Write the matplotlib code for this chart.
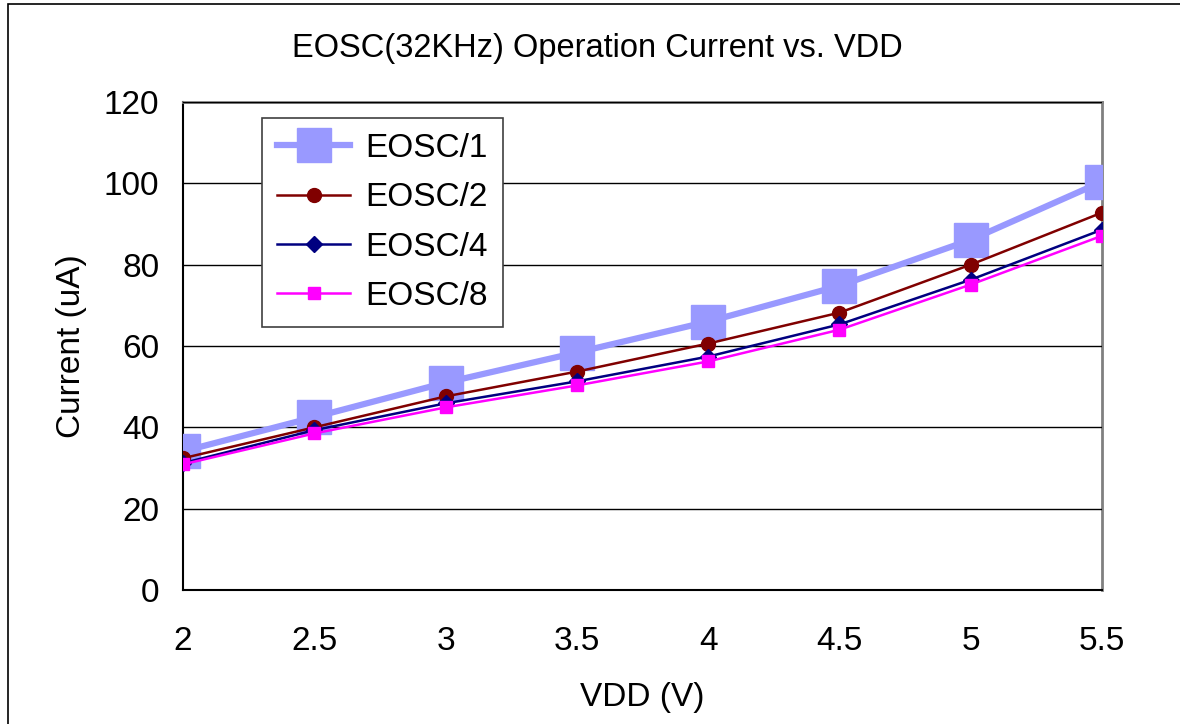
import matplotlib
matplotlib.use("Agg")
import matplotlib.pyplot as plt
from matplotlib.patches import Rectangle

plt.rcParams['font.family'] = ['Liberation Sans', 'DejaVu Sans']

vdd = [2, 2.5, 3, 3.5, 4, 4.5, 5, 5.5]
eosc1 = [34.1, 42.5, 51.0, 58.4, 66.0, 74.8, 86.1, 100.4]
eosc2 = [32.4, 40.0, 47.6, 53.7, 60.6, 68.2, 80.0, 92.8]
eosc4 = [31.2, 39.3, 45.9, 51.3, 57.4, 65.3, 76.3, 88.6]
eosc8 = [30.9, 38.5, 44.9, 50.3, 56.2, 64.0, 75.1, 87.1]
yticks = [0, 20, 40, 60, 80, 100, 120]

fig = plt.figure(figsize=(11.8, 7.24), dpi=100)
# outer chart border
fig.patches.append(Rectangle((8 / 1180, -0.1), 1.2, 1.1 - 4 / 724, transform=fig.transFigure,
                             fill=False, edgecolor='black', linewidth=1.2))

ax = fig.add_axes([183 / 1180, 1 - 590 / 724, (1102 - 183) / 1180, (590 - 102) / 724])

ax.plot(vdd, eosc1, color='#9999FF', linewidth=4.5, marker='s', markersize=24, label='EOSC/1')
ax.plot(vdd, eosc2, color='#800000', linewidth=1.8, marker='o', markersize=10, label='EOSC/2')
ax.plot(vdd, eosc4, color='#000080', linewidth=1.8, marker='D', markersize=8, label='EOSC/4')
ax.plot(vdd, eosc8, color='#FF00FF', linewidth=1.8, marker='s', markersize=9, label='EOSC/8')

ax.set_xlim(2, 5.5)
ax.set_ylim(0, 120)
ax.set_xticks(vdd)
ax.set_xticklabels(['2', '2.5', '3', '3.5', '4', '4.5', '5', '5.5'])
ax.set_yticks(yticks)
ax.tick_params(axis='x', length=0, pad=26, labelsize=24)
ax.tick_params(axis='y', length=0, pad=17, labelsize=24)
ax.yaxis.grid(True, color='black', linewidth=1)
ax.set_axisbelow(True)

for side in ['top', 'right']:
    ax.spines[side].set_color('#808080')
    ax.spines[side].set_linewidth(2)
for side in ['left', 'bottom']:
    ax.spines[side].set_color('black')
    ax.spines[side].set_linewidth(1.5)
for sp in ax.spines.values():
    sp.set_zorder(0.5)

ax.set_xlabel('VDD (V)', fontsize=24, labelpad=18)
ax.set_ylabel('Current (uA)', fontsize=24, labelpad=12)
fig.text(0.506, 1 - 48 / 724, 'EOSC(32KHz) Operation Current vs. VDD', fontsize=23.5,
         ha='center', va='center')

leg = ax.legend(loc='upper left', bbox_to_anchor=(79 / 919, 1 - 16 / 488), fontsize=24,
                frameon=True, fancybox=False, handlelength=2.2, handletextpad=0.45,
                labelspacing=0.55, borderpad=0.45, borderaxespad=0, markerscale=1.0)
leg.get_frame().set_edgecolor('#404040')
leg.get_frame().set_linewidth(1.2)
leg.get_frame().set_alpha(1)

fig.savefig('out.png', dpi=100)
